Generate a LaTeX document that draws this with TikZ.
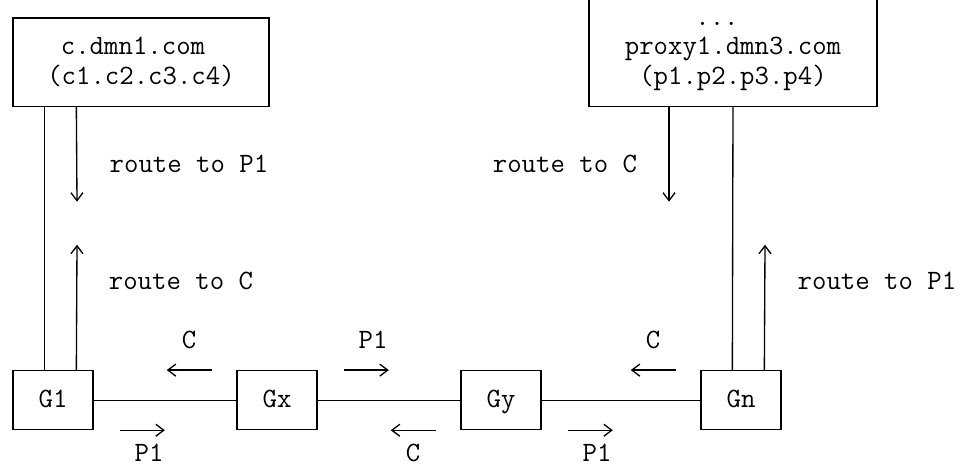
\documentclass[tikz,border=0pt]{standalone}
\usepackage{fontspec}
\usetikzlibrary{arrows.meta}
\tikzset{
  box_n/.style = {draw=black, line width=1pt, inner sep=0pt,
    font=\ttfamily\fontsize{21}{24}\selectfont},
  gw_n/.style = {box_n, minimum width=60pt, minimum height=44.1pt,
    text height=11pt, text depth=0pt},
  txt_n/.style = {inner sep=0pt, text height=11pt, text depth=0pt,
    font=\ttfamily\fontsize{21}{24}\selectfont},
  link/.style = {-, line width=1pt},
  dir/.style = {->, line width=1pt}}

\begin{document}
\begin{tikzpicture}[x=12pt, y=-22.05pt, >={Straight Barb[length=6pt, width=9pt]}]
\useasboundingbox (-0.8125,-0.612) rectangle (59.5625,15.374);

\node [box_n, minimum width=192pt, minimum height=66.15pt] (client) at (8,1.5) {};
\node [txt_n] (client_name) at (7.5,1) {c.dmn1.com};
\node [txt_n] (client_ip) at (8,2) {(c1.c2.c3.c4)};

\node [minimum width=216pt, minimum height=79.64pt, inner sep=0pt, outer sep=0pt] (proxy) at (45,1.194) {};
\draw [link] (proxy.north west) -- (proxy.south west) -- (proxy.south east) -- (proxy.north east);
\node [txt_n] (proxy_more) at (44,0) {...};
\node [txt_n] (proxy_name) at (45,1) {proxy1.dmn3.com};
\node [txt_n] (proxy_ip) at (45,2) {(p1.p2.p3.p4)};

\node [gw_n] (g1) at (2.5,13) {G1};
\node [gw_n] (gx) at (16.5,13) {Gx};
\node [gw_n] (gy) at (30.5,13) {Gy};
\node [gw_n] (gn) at (45.5,13) {Gn};

\draw [link] (g1) -- (gx);
\draw [link] (gx) -- (gy);
\draw [link] (gy) -- (gn);

% client side
\coordinate (c_down) at (4,6.25);
\coordinate (c_up) at (4,7.71);
\draw [link] ([xshift=24pt]client.south west) -- ([xshift=24pt]g1.north west);
\draw [dir] ([xshift=48pt]client.south west) -- (c_down);
\draw [dir] ([xshift=48pt]g1.north west) -- (c_up);
\node [txt_n] (route_p1_l) at (11,5) {route to P1};
\node [txt_n] (route_c_l) at (10.5,9) {route to C};

% proxy side
\coordinate (p_down) at (41,6.25);
\coordinate (p_up) at (47,7.71);
\draw [dir] ([xshift=60pt]proxy.south west) -- (p_down);
\draw [link] ([xshift=108pt]proxy.south west) -- ([xshift=24pt]gn.north west);
\draw [dir] ([xshift=48pt]gn.north west) -- (p_up);
\node [txt_n] (route_c_r) at (34.5,5) {route to C};
\node [txt_n] (route_p1_r) at (54,9) {route to P1};

% directions along the path
\draw [dir] ([xshift=-18.6pt]gx.north west) -- ([xshift=-52.2pt]gx.north west);
\draw [dir] ([xshift=19.8pt]gx.north east) -- ([xshift=53.4pt]gx.north east);
\draw [dir] ([xshift=-18.6pt]gn.north west) -- ([xshift=-52.2pt]gn.north west);
\draw [dir] ([xshift=19.8pt]g1.south east) -- ([xshift=53.4pt]g1.south east);
\draw [dir] ([xshift=-18.6pt]gy.south west) -- ([xshift=-52.2pt]gy.south west);
\draw [dir] ([xshift=19.8pt]gy.south east) -- ([xshift=53.4pt]gy.south east);
\node [txt_n] (c_1) at (11,11) {C};
\node [txt_n] (p1_1) at (22.5,11) {P1};
\node [txt_n] (c_2) at (40,11) {C};
\node [txt_n] (p1_2) at (8.5,14.85) {P1};
\node [txt_n] (c_3) at (25,14.85) {C};
\node [txt_n] (p1_3) at (36.5,14.85) {P1};
\end{tikzpicture}
\end{document}
